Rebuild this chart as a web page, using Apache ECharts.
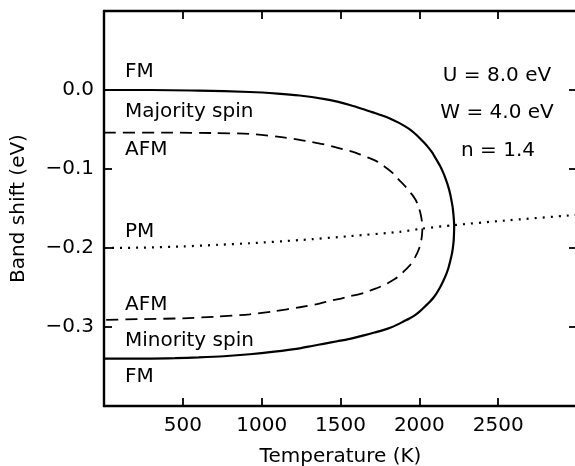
<!DOCTYPE html>
<html>
<head>
<meta charset="utf-8">
<script src="https://cdn.jsdelivr.net/npm/echarts@6/dist/echarts.min.js"></script>
<style>
html,body{margin:0;padding:0;background:#fff;overflow:hidden;}
#chart{width:575px;height:466px;}
</style>
</head>
<body>
<div id="chart"></div>
<script>
// Temperature (K) ticks
var xTicks = [0, 500, 1000, 1500, 2000, 2500, 3000];
var yTicks = [-0.4, -0.3, -0.2, -0.1, 0.0, 0.1];

// Ferromagnetic: majority branch then minority branch (closed at Tc)
var fmCurve = [
  [0, 0], [300, 0], [600, -0.0008], [924, -0.0025], [1100, -0.0045], [1241, -0.007], [1400, -0.0115],
  [1480, -0.0148], [1559, -0.019], [1640, -0.024], [1700, -0.028], [1760, -0.032], [1813, -0.036],
  [1865, -0.041], [1910, -0.046], [1948, -0.051], [1982, -0.057], [2017, -0.064],
  [2050, -0.071], [2081, -0.079], [2108, -0.088], [2131, -0.096], [2150, -0.104], [2168, -0.113],
  [2183, -0.122], [2195, -0.131], [2204, -0.140], [2211, -0.148], [2215, -0.155], [2219, -0.164],
  [2221, -0.172], [2220, -0.181], [2218, -0.190], [2214, -0.198], [2208, -0.206], [2198, -0.215],
  [2185, -0.225], [2169, -0.234], [2151, -0.242], [2131, -0.250], [2110, -0.257], [2089, -0.263],
  [2067, -0.268], [2036, -0.274], [2005, -0.280], [1973, -0.285], [1940, -0.289], [1900, -0.293],
  [1860, -0.297], [1815, -0.301], [1770, -0.304], [1715, -0.307], [1660, -0.310], [1610, -0.3125],
  [1559, -0.315], [1480, -0.318], [1400, -0.321], [1320, -0.324], [1241, -0.327], [1080, -0.3312],
  [924, -0.3345], [760, -0.337], [600, -0.3385], [450, -0.3395], [300, -0.340], [0, -0.340]
];

// Antiferromagnetic: majority branch then minority branch (closed at TN)
var afmCurve = [
  [0, -0.054], [400, -0.054], [700, -0.0545], [924, -0.0555], [1100, -0.059], [1241, -0.063],
  [1320, -0.066], [1400, -0.069], [1460, -0.072], [1516, -0.075], [1575, -0.078], [1630, -0.082],
  [1680, -0.086], [1728, -0.090], [1766, -0.095], [1800, -0.100], [1830, -0.105],
  [1857, -0.111], [1887, -0.117], [1915, -0.123], [1940, -0.129], [1960, -0.134], [1976, -0.139],
  [1988, -0.144], [1998, -0.150], [2006, -0.155], [2012, -0.161], [2017, -0.167], [2019, -0.172],
  [2019, -0.177], [2017, -0.183], [2014, -0.188], [2009, -0.193], [2003, -0.198], [1990, -0.205],
  [1975, -0.211], [1958, -0.217], [1940, -0.222], [1910, -0.228], [1880, -0.234], [1847, -0.239],
  [1813, -0.243], [1777, -0.247], [1740, -0.250], [1700, -0.253], [1665, -0.256],
  [1610, -0.259], [1560, -0.261], [1505, -0.264], [1453, -0.266], [1350, -0.271], [1241, -0.275],
  [1080, -0.280], [924, -0.284], [700, -0.287], [500, -0.289], [250, -0.290], [0, -0.291]
];

// Paramagnetic
var pmCurve = [
  [0, -0.200], [250, -0.1995], [500, -0.198], [720, -0.196], [924, -0.194], [1241, -0.190],
  [1559, -0.185], [1876, -0.1795], [2016, -0.1755], [2219, -0.171], [2500, -0.166], [3000, -0.158]
];

var FONT = '"DejaVu Sans"';
var FS = 20;
var chart = echarts.init(document.getElementById('chart'), null, {renderer: 'canvas'});

function fmtY(v) {
  var s = Math.abs(v).toFixed(1);
  return (v < -1e-9 ? '\u2212' : '') + s;
}

var labelTexts = [
  {t: 'FM', x: 125, y: 72},
  {t: 'Majority spin', x: 125, y: 112},
  {t: 'AFM', x: 125, y: 150},
  {t: 'PM', x: 125, y: 232},
  {t: 'AFM', x: 125, y: 305},
  {t: 'Minority spin', x: 125, y: 341},
  {t: 'FM', x: 125, y: 377}
];
var paramTexts = [
  {t: 'U = 8.0 eV', x: 497, y: 76},
  {t: 'W = 4.0 eV', x: 497, y: 113},
  {t: 'n = 1.4', x: 498, y: 151}
];

var graphics = [];
labelTexts.forEach(function (d) {
  graphics.push({type: 'text', x: d.x, y: d.y, style: {text: d.t, font: FS + 'px ' + FONT, fill: '#000', textAlign: 'left', textVerticalAlign: 'middle'}});
});
paramTexts.forEach(function (d) {
  graphics.push({type: 'text', x: d.x, y: d.y, style: {text: d.t, font: FS + 'px ' + FONT, fill: '#000', textAlign: 'center', textVerticalAlign: 'middle'}});
});

var axisLine = {show: true, onZero: false, lineStyle: {color: '#000', width: 2.4}};
var tickIn = {show: true, inside: true, length: 8, lineStyle: {color: '#000', width: 1.8}};

chart.setOption({
  backgroundColor: '#fff',
  animation: false,
  grid: {left: 104, top: 11, right: -2, bottom: 60, containLabel: false, outerBoundsMode: 'none'},
  xAxis: [{
    type: 'value', min: xTicks[0], max: xTicks[xTicks.length - 1], interval: 500,
    position: 'bottom',
    axisLine: axisLine, axisTick: tickIn, splitLine: {show: false},
    axisLabel: {color: '#000', fontFamily: 'DejaVu Sans', fontSize: FS, margin: 10,
      formatter: function (v) { return (v === 0 || v === 3000) ? '' : String(v); }},
    name: 'Temperature (K)', nameLocation: 'middle', nameGap: 41,
    nameTextStyle: {color: '#000', fontFamily: 'DejaVu Sans', fontSize: FS}
  }, {
    type: 'value', min: 0, max: 3000, interval: 500, position: 'top',
    axisLine: axisLine, axisTick: tickIn, axisLabel: {show: false}, splitLine: {show: false}
  }],
  yAxis: [{
    type: 'value', min: yTicks[0], max: yTicks[yTicks.length - 1], interval: 0.1,
    position: 'left',
    axisLine: axisLine, axisTick: tickIn, splitLine: {show: false},
    axisLabel: {color: '#000', fontFamily: 'DejaVu Sans', fontSize: FS, margin: 10,
      formatter: function (v) { return (Math.abs(v + 0.4) < 1e-6 || Math.abs(v - 0.1) < 1e-6) ? '' : fmtY(v); }},
    name: 'Band shift (eV)', nameLocation: 'middle', nameGap: 75,
    nameTextStyle: {color: '#000', fontFamily: 'DejaVu Sans', fontSize: FS}
  }, {
    type: 'value', min: -0.4, max: 0.1, interval: 0.1, position: 'right',
    axisLine: axisLine, axisTick: tickIn, axisLabel: {show: false}, splitLine: {show: false}
  }],
  series: [{
    type: 'line', data: fmCurve, showSymbol: false, smooth: 0.25,
    lineStyle: {color: '#000', width: 2.2}
  }, {
    type: 'line', data: afmCurve, showSymbol: false, smooth: 0.25,
    lineStyle: {color: '#000', width: 1.8, type: [12, 7]}
  }, {
    type: 'line', data: pmCurve, showSymbol: false, smooth: 0.25,
    lineStyle: {color: '#000', width: 2.2, type: [2, 6]}
  }],
  graphic: graphics
});
</script>
</body>
</html>
